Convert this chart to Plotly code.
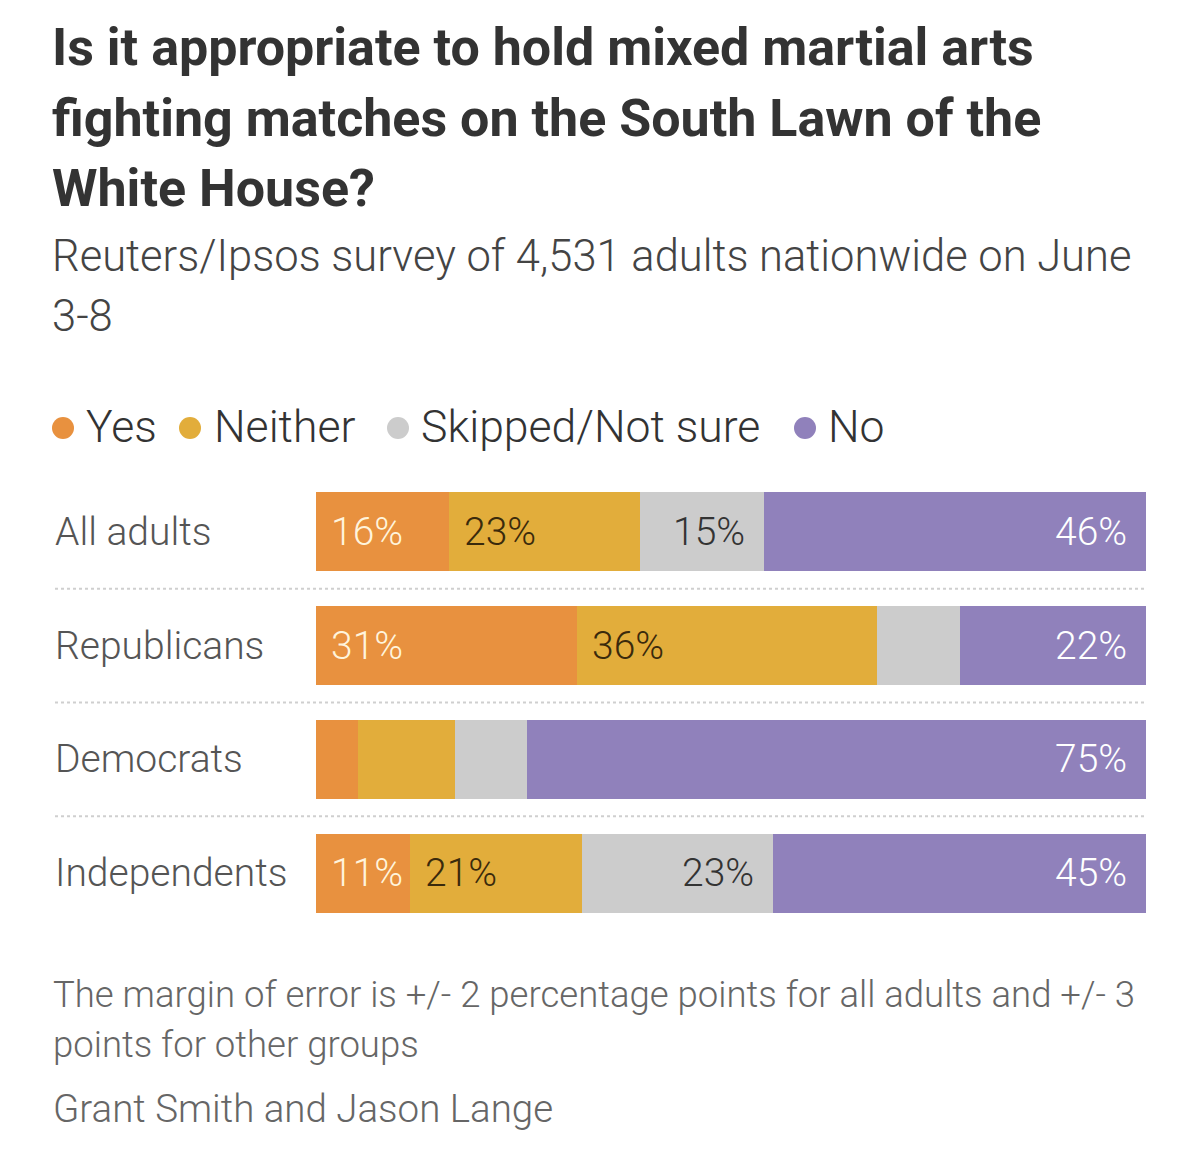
import plotly.graph_objects as go

# ---- data ----
categories = ["All adults", "Republicans", "Democrats", "Independents"]
series_names = ["Yes", "Neither", "Skipped/Not sure", "No"]
yes_values = [16, 31.4, 5, 11.3]
neither_values = [23, 36.2, 11.8, 20.8]
skipped_values = [15, 10.0, 8.6, 22.9]
no_values = [46, 22.4, 74.6, 45]
# which segments carry a printed label
yes_show = [True, True, False, True]
neither_show = [True, True, False, True]
skipped_show = [True, False, False, True]
no_show = [True, True, True, True]

title_lines = ["Is it appropriate to hold mixed martial arts",
               "fighting matches on the South Lawn of the",
               "White House?"]
subtitle_lines = ["Reuters/Ipsos survey of 4,531 adults nationwide on June", "3-8"]
footnote_lines = ["The margin of error is +/- 2 percentage points for all adults and +/- 3",
                  "points for other groups"]
credit = "Grant Smith and Jason Lange"

# ---- styles ----
W, H = 1200, 1157
colors = ["#E8913F", "#E2AD3B", "#CCCCCC", "#9081BB"]
label_colors = ["#FFF4DC", "#3A2A0C", "#333333", "#FFFFFF"]
anchors = ["start", "start", "end", "end"]
FONT = "Roboto"

def py(px):
    return 1 - px / H

def px_x(px):
    return px / W

values = [yes_values, neither_values, skipped_values, no_values]
shows = [yes_show, neither_show, skipped_show, no_show]

fig = go.Figure()
for name, vals, col in zip(series_names, values, colors):
    fig.add_trace(go.Bar(
        y=categories, x=vals, name=name, orientation="h",
        marker=dict(color=col, line=dict(width=0)),
        width=0.695, showlegend=False, hoverinfo="x+name",
    ))

annotations = []
shapes = []

# bar value labels
for i in range(len(categories)):
    cum = 0
    for s in range(4):
        v = values[s][i]
        start, end = cum, cum + v
        cum = end
        if not shows[s][i]:
            continue
        if anchors[s] == "start":
            annotations.append(dict(x=start, y=categories[i], xref="x", yref="y",
                                    text=f"{round(v)}%", showarrow=False,
                                    xanchor="left", yanchor="middle", xshift=13,
                                    font=dict(family=FONT, size=39, weight=300, color=label_colors[s])))
        else:
            annotations.append(dict(x=end, y=categories[i], xref="x", yref="y",
                                    text=f"{round(v)}%", showarrow=False,
                                    xanchor="right", yanchor="middle", xshift=-17,
                                    font=dict(family=FONT, size=39, weight=300, color=label_colors[s])))

# category labels
for c in categories:
    annotations.append(dict(x=px_x(53), y=c, xref="paper", yref="y", text=c,
                            showarrow=False, xanchor="left", yanchor="middle",
                            font=dict(family=FONT, size=39, weight=300, color="#555555")))

# separators
for k in range(len(categories) - 1):
    shapes.append(dict(type="line", xref="paper", yref="y",
                       x0=px_x(55), x1=px_x(1146), y0=k + 0.5, y1=k + 0.5,
                       line=dict(color="#CFCFCF", width=2, dash="dot")))

# title
for j, t in enumerate(title_lines):
    annotations.append(dict(x=px_x(50), y=py(48 + 70 * j), xref="paper", yref="paper",
                            text=t, showarrow=False, xanchor="left", yanchor="middle",
                            font=dict(family=FONT, size=52, weight=700, color="#333333")))
# subtitle
for j, t in enumerate(subtitle_lines):
    annotations.append(dict(x=px_x(50), y=py(256 + 60 * j), xref="paper", yref="paper",
                            text=t, showarrow=False, xanchor="left", yanchor="middle",
                            font=dict(family=FONT, size=43.5, weight=300, color="#444444")))

# legend
legend_circle_x = [63, 190, 398, 805]
legend_text_x = [84, 212, 419, 826]
for name, col, cx, tx in zip(series_names, colors, legend_circle_x, legend_text_x):
    shapes.append(dict(type="circle", xref="paper", yref="paper",
                       x0=px_x(cx - 11), x1=px_x(cx + 11), y0=py(428 + 11), y1=py(428 - 11),
                       fillcolor=col, line=dict(width=0)))
    annotations.append(dict(x=px_x(tx), y=py(427), xref="paper", yref="paper",
                            text=name, showarrow=False, xanchor="left", yanchor="middle",
                            font=dict(family=FONT, size=44.5, weight=300, color="#333333")))

# footnote
for j, t in enumerate(footnote_lines):
    annotations.append(dict(x=px_x(51), y=py(994 + 50 * j), xref="paper", yref="paper",
                            text=t, showarrow=False, xanchor="left", yanchor="middle",
                            font=dict(family=FONT, size=36.5, weight=300, color="#666666")))
annotations.append(dict(x=px_x(51), y=py(1108), xref="paper", yref="paper",
                        text=credit, showarrow=False, xanchor="left", yanchor="middle",
                        font=dict(family=FONT, size=38.5, weight=300, color="#666666")))

fig.update_layout(
    width=W, height=H,
    margin=dict(l=0, r=0, t=0, b=0),
    paper_bgcolor="white", plot_bgcolor="white",
    barmode="stack", bargap=0,
    annotations=annotations, shapes=shapes,
    xaxis=dict(domain=[316 / W, 1146 / W], range=[0, 100], visible=False, fixedrange=True),
    yaxis=dict(domain=[py(930), py(475)], categoryorder="array", categoryarray=categories,
               range=[3.5, -0.5], visible=False, fixedrange=True),
    showlegend=False,
)

fig.write_html("out.html", config={"displayModeBar": False},
               post_script="document.body.style.margin='0px';document.body.style.overflow='hidden';")
